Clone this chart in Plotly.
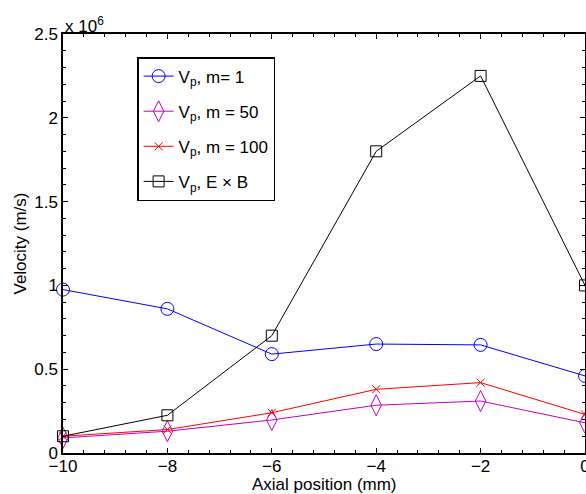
import plotly.graph_objects as go

# Data (velocity in m/s)
axial_mm = [-10, -8, -6, -4, -2, 0]
vp_m1 = [0.975e6, 0.86e6, 0.59e6, 0.65e6, 0.645e6, 0.46e6]
vp_m50 = [0.09e6, 0.13e6, 0.197e6, 0.285e6, 0.31e6, 0.18e6]
vp_m100 = [0.10e6, 0.14e6, 0.24e6, 0.38e6, 0.42e6, 0.23e6]
vp_exb = [0.10e6, 0.225e6, 0.70e6, 1.80e6, 2.25e6, 1.00e6]

series_names = ["V<sub>p</sub>, m= 1", "V<sub>p</sub>, m = 50",
                "V<sub>p</sub>, m = 100", "V<sub>p</sub>, E \u00d7 B"]
x_ticks = [-10, -8, -6, -4, -2, 0]
y_tick_vals = [0, 0.5e6, 1e6, 1.5e6, 2e6, 2.5e6]
y_tick_text = ["0", "0.5", "1", "1.5", "2", "2.5"]

FONT = "Liberation Sans, Arial, Helvetica, sans-serif"

fig = go.Figure()
styles = [
    dict(color="#0000ff", symbol="circle-open", size=13),
    dict(color="#bf00bf", symbol="diamond-tall-open", size=15),
    dict(color="#ff0000", symbol="x-thin-open", size=8),
    dict(color="#000000", symbol="square-open", size=11),
]
for i, (name, ys, st) in enumerate(zip(series_names, [vp_m1, vp_m50, vp_m100, vp_exb], styles)):
    fig.add_trace(go.Scatter(
        x=axial_mm, y=ys, name=name, mode="lines+markers",
        legendgroup=f"g{i}",
        line=dict(color=st["color"], width=1),
        marker=dict(symbol=st["symbol"], size=st["size"], color=st["color"],
                    line=dict(color=st["color"], width=1)),
        cliponaxis=False,
    ))

axis_common = dict(
    showline=True, linecolor="black", linewidth=1.5, mirror="ticks",
    ticks="inside", ticklen=5, tickwidth=1, tickcolor="black",
    showgrid=False, zeroline=False, ticklabeloverflow="allow",
    tickfont=dict(family=FONT, size=17, color="black"),
)

fig.update_layout(
    width=586, height=494,
    margin=dict(l=63, r=1, t=34, b=41, autoexpand=False),
    paper_bgcolor="white", plot_bgcolor="white",
    font=dict(family=FONT, size=17, color="black"),
    xaxis=dict(range=[-10, 0], tickvals=x_ticks, ticklabelstandoff=-3,
               minor=dict(dtick=0.4, ticks="inside", ticklen=3, tickcolor="black", showgrid=False),
               **axis_common),
    yaxis=dict(range=[0, 2.5e6], tickvals=y_tick_vals, ticktext=y_tick_text,
               minor=dict(dtick=0.1e6, ticks="inside", ticklen=3, tickcolor="black", showgrid=False),
               title=dict(text="Velocity (m/s)", standoff=3,
                          font=dict(family=FONT, size=17)),
               **axis_common),
    legend=dict(x=0.142, y=0.945, xanchor="left", yanchor="top",
                bgcolor="white", bordercolor="black", borderwidth=1.5,
                font=dict(family=FONT, size=17), itemwidth=30,
                tracegroupgap=10),
    showlegend=True,
    annotations=[
        dict(x=0, y=1, xref="paper", yref="paper", xanchor="left",
             yanchor="bottom", showarrow=False, yshift=-4,
             text="x 10<sup>6</sup>", font=dict(family=FONT, size=17)),
        dict(x=0.5, y=0, xref="paper", yref="paper", xanchor="center",
             yanchor="top", showarrow=False, yshift=-20,
             text="Axial position (mm)", font=dict(family=FONT, size=17)),
    ],
)

fig.write_html("out.html", config={"displayModeBar": False},
               post_script="document.body.style.margin='0';document.body.style.padding='0';")
